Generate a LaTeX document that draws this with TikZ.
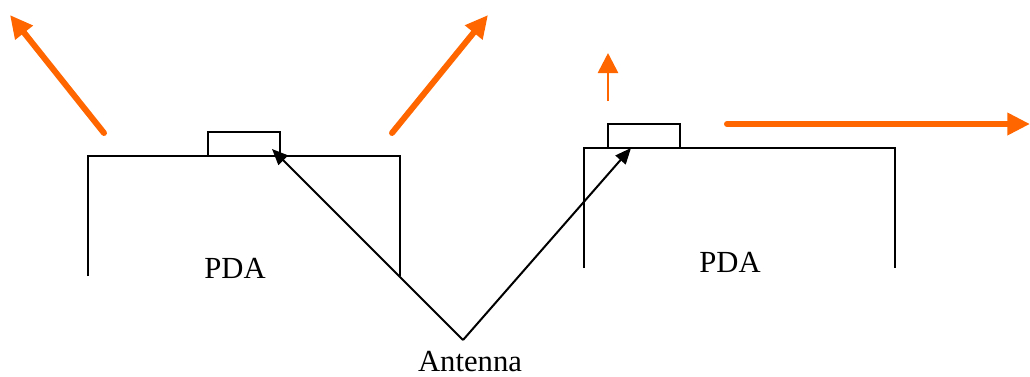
\documentclass[tikz,border=0pt]{standalone}
\usepackage{fontspec}
\setmainfont{Liberation Serif}
\usetikzlibrary{arrows.meta,positioning}
\definecolor{signal}{RGB}{255,102,0}

\begin{document}
\begin{tikzpicture}[x=0.75pt, y=-0.75pt, line width=1.5pt,
    every node/.style={font=\fontsize{23}{27}\selectfont},
    wave/.style={signal, line width=4.5pt, line cap=round, -{Triangle[length=17pt,width=16pt]}},
    feed/.style={-{Triangle[length=12pt,width=10pt]}}]
  \useasboundingbox (0,0) rectangle (1030,376);
  % left PDA
  \draw (88,276) -- (88,156) -- (400,156) -- (400,276);
  \draw (208,156) -- (208,132) -- (280,132) -- (280,156);
  \node (pdaL) at (235,268) {PDA};
  \coordinate (antL) at (272,149);
  % right PDA
  \draw (584,268) -- (584,148) -- (895,148) -- (895,268);
  \draw (608,148) -- (608,124) -- (680,124) -- (680,148);
  \node (pdaR) at (730,262) {PDA};
  \coordinate (antR) at (631,148);
  % antenna label
  \coordinate (apex) at (463,340);
  \node (ant) at (470,362) {Antenna};
  \draw[feed] (apex) -- (antL);
  \draw[feed] (apex) -- (antR);
  % radiation
  \coordinate (sL1) at (104,133);  \coordinate (eL1) at (10,15);
  \coordinate (sL2) at (392,133);  \coordinate (eL2) at (488,15);
  \coordinate (sR1) at (608,101);  \coordinate (eR1) at (608,53);
  \coordinate (sR2) at (727,124);  \coordinate (eR2) at (1030,124);
  \draw[wave] (sL1) -- (eL1);
  \draw[wave] (sL2) -- (eL2);
  \draw[wave, line width=2pt, line cap=butt, -{Triangle[length=15pt,width=15pt]}] (sR1) -- (eR1);
  \draw[wave] (sR2) -- (eR2);
\end{tikzpicture}
\end{document}
